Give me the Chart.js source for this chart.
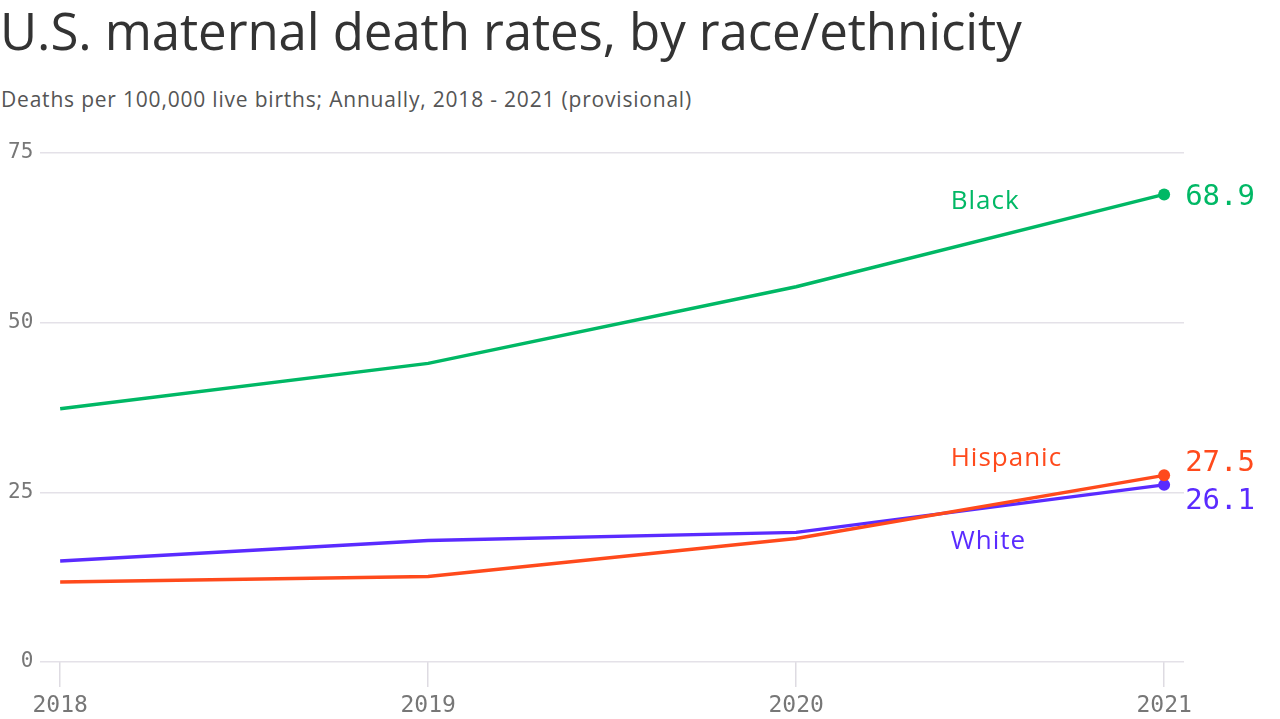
<!DOCTYPE html>
<html>
<head>
<meta charset="utf-8">
<script src="https://cdn.jsdelivr.net/npm/chart.js@4"></script>
<style>
  html,body{margin:0;padding:0;background:#fff;width:1280px;height:719px;overflow:hidden;}
  #title{position:absolute;left:0;top:-5px;font-family:"Open Sans",sans-serif;font-size:51px;color:#333;white-space:nowrap;letter-spacing:-0.1px;}
  #sub{position:absolute;left:1px;top:85px;font-family:"Open Sans",sans-serif;font-size:21px;color:#555;white-space:nowrap;letter-spacing:0.8px;}
  #wrap{position:absolute;left:0;top:0;width:1280px;height:719px;}
</style>
</head>
<body>
<div id="title">U.S. maternal death rates, by race/ethnicity</div>
<div id="sub">Deaths per 100,000 live births; Annually, 2018 - 2021 (provisional)</div>
<div id="wrap"><canvas id="c" width="1280" height="719"></canvas></div>
<script>
const years = [2018, 2019, 2020, 2021];
const seriesNames = ["Black", "Hispanic", "White"];
const black = [37.3, 44.0, 55.3, 68.9];
const hispanic = [11.8, 12.6, 18.2, 27.5];
const white = [14.9, 17.9, 19.1, 26.1];
const colors = ["#00b865", "#ff4a1c", "#5a2bff"];
const yTicks = [0, 25, 50, 75];
// series-name annotation anchors (data coords)
const nameX = [2020.42, 2020.42, 2020.42];
const nameY = [67.9, 29.9, 17.8];
// end-value label vertical nudges (px)
const endNudge = [3, -12, 17];

const seriesValues = [black, hispanic, white];

const labelPlugin = {
  id: 'labels',
  afterDatasetsDraw(chart) {
    const ctx = chart.ctx;
    const xs = chart.scales.x, ys = chart.scales.y;
    ctx.save();
    chart.data.datasets.forEach((ds, i) => {
      const meta = chart.getDatasetMeta(i);
      const last = meta.data[meta.data.length - 1];
      ctx.fillStyle = colors[i];
      ctx.textBaseline = 'middle';
      ctx.textAlign = 'left';
      ctx.letterSpacing = '0px';
      ctx.font = '29px "DejaVu Sans Mono", monospace';
      const v = seriesValues[i][seriesValues[i].length - 1];
      ctx.fillText(v.toFixed(1), last.x + 21, last.y + endNudge[i]);
      ctx.font = '26px "Open Sans", sans-serif';
      ctx.letterSpacing = '1px';
      ctx.fillText(seriesNames[i], xs.getPixelForValue(nameX[i]), ys.getPixelForValue(nameY[i]));
    });
    ctx.restore();
  }
};

new Chart(document.getElementById('c'), {
  type: 'line',
  data: {
    datasets: seriesValues.map((vals, i) => ({
      label: seriesNames[i],
      data: vals.map((v, j) => ({x: years[j], y: v})),
      borderColor: colors[i],
      backgroundColor: colors[i],
      borderWidth: 3.5,
      tension: 0,
      pointRadius: ctx => ctx.dataIndex === vals.length - 1 ? 6 : 0,
      pointHoverRadius: 0,
      pointBorderWidth: 0
    }))
  },
  options: {
    responsive: false,
    animation: false,
    events: [],
    layout: {padding: {top: 153, right: 96, bottom: -7, left: 1}},
    plugins: {legend: {display: false}, tooltip: {enabled: false}},
    scales: {
      x: {
        type: 'linear',
        min: 2018 - 0.054,
        max: 2021 + 0.054,
        afterBuildTicks: s => { s.ticks = years.map(v => ({value: v})); },
        ticks: {
          color: '#777',
          font: {family: '"DejaVu Sans Mono", monospace', size: 23, lineHeight: 1},
          padding: 8,
          maxRotation: 0,
          callback: v => String(v)
        },
        grid: {drawOnChartArea: false, drawTicks: true, tickLength: 25, color: '#dedbe2', lineWidth: 1.5},
        border: {display: false}
      },
      y: {
        min: 0,
        max: 75,
        afterBuildTicks: s => { s.ticks = yTicks.map(v => ({value: v})); },
        ticks: {
          color: '#777',
          font: {family: '"DejaVu Sans Mono", monospace', size: 21},
          padding: 7
        },
        grid: {drawTicks: false, color: '#e4e1e8', lineWidth: 1.5},
        border: {display: false}
      }
    }
  },
  plugins: [labelPlugin]
});
</script>
</body>
</html>
